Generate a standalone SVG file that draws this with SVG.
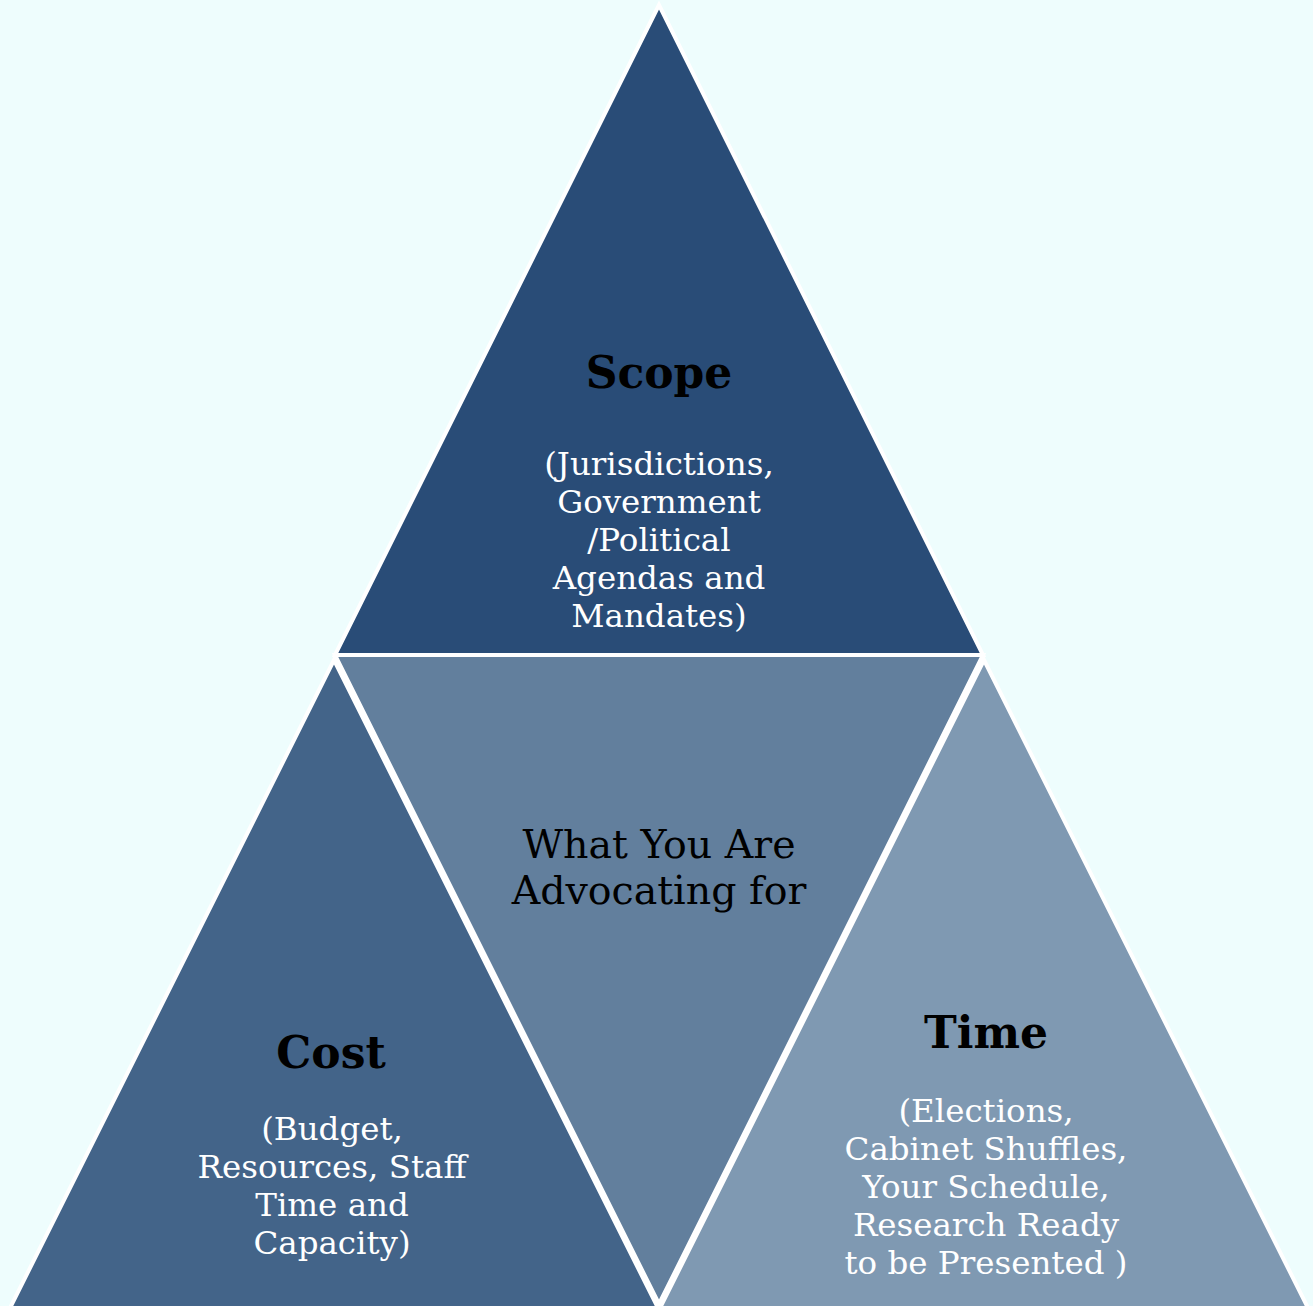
<svg xmlns="http://www.w3.org/2000/svg" width="1313" height="1306" viewBox="0 0 1313 1306">
<style>
.tri{stroke:#FFFFFF;stroke-width:4;stroke-linejoin:miter}
text{font-family:"DejaVu Serif","Liberation Serif",serif;text-anchor:middle}
.h{font-weight:bold;font-size:44px;fill:#000000}
.w{font-size:32.5px;fill:#FFFFFF}
.c{font-size:39.5px;fill:#000000}
</style>
<rect x="0" y="0" width="1313" height="1306" fill="#EEFDFD"/>
<g id="connectors"/>
<g id="scope">
<polygon class="tri" fill="#294C77" points="659,5 335,655 983,655"/>
<text class="h" x="659" y="388">Scope</text>
<text class="w" x="659" y="475">(Jurisdictions,</text>
<text class="w" x="659" y="513">Government</text>
<text class="w" x="659" y="551">/Political</text>
<text class="w" x="659" y="589">Agendas and</text>
<text class="w" x="659" y="627">Mandates)</text>
</g>
<g id="center">
<polygon class="tri" fill="#627F9D" points="335,655 983,655 659,1304"/>
<text class="c" x="659" y="858">What You Are</text>
<text class="c" x="659" y="904">Advocating for</text>
</g>
<g id="cost">
<polygon class="tri" fill="#436489" points="334,660 10,1308 658,1308"/>
<text class="h" x="331" y="1068">Cost</text>
<text class="w" x="332" y="1140">(Budget,</text>
<text class="w" x="332" y="1178">Resources, Staff</text>
<text class="w" x="332" y="1216">Time and</text>
<text class="w" x="332" y="1254">Capacity)</text>
</g>
<g id="time">
<polygon class="tri" fill="#7F99B2" points="984,660 660,1308 1308,1308"/>
<text class="h" x="986" y="1048">Time</text>
<text class="w" x="986" y="1122">(Elections,</text>
<text class="w" x="986" y="1160">Cabinet Shuffles,</text>
<text class="w" x="986" y="1198">Your Schedule,</text>
<text class="w" x="986" y="1236">Research Ready</text>
<text class="w" x="986" y="1274">to be Presented )</text>
</g>
</svg>
